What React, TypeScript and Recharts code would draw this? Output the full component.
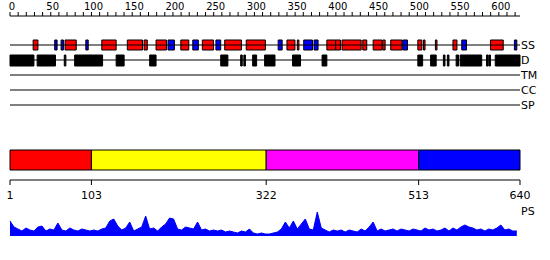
import { ComposedChart, XAxis, YAxis, ReferenceArea, ReferenceLine, AreaChart, Area } from "recharts";

// residue ranges
const helixSegments = [
  [30, 36], [70, 84], [116, 134], [148, 167], [169, 173], [184, 197], [215, 225], [242, 256],
  [270, 291], [297, 321], [348, 358], [361, 363], [398, 409], [409, 415], [417, 441], [443, 448],
  [456, 467], [468, 471], [478, 492], [512, 517], [519, 521], [534, 536], [556, 561], [603, 619],
];
const strandSegments = [
  [57, 60], [65, 68], [96, 99], [199, 207], [230, 237], [259, 265], [337, 342], [369, 380],
  [382, 387], [493, 499], [567, 573], [633, 636],
];
const disorderSegments = [
  [1, 31], [35, 58], [69, 71], [82, 117], [134, 144], [176, 184], [265, 274], [290, 292],
  [294, 296], [305, 310], [320, 333], [355, 365], [392, 398], [512, 518], [528, 535], [544, 546],
  [549, 551], [560, 563], [565, 592], [598, 600], [601, 603], [609, 640],
];
const trackNames = ["SS", "D", "TM", "CC", "SP"];
const domainBounds = [1, 103, 322, 513, 640];
const domainColors = ["#ff0000", "#ffff00", "#ff00ff", "#0000ff"];
const rulerTicks = Array.from({ length: 63 }, (_, i) => i * 10);

// PS profile, one value every 5 residues from residue 1
const psValues = [
  15, 9, 7, 5, 8, 6, 5, 9, 10, 5, 7, 6, 13, 6, 5, 8, 6, 5, 7, 6,
  5, 6, 5, 7, 8, 15, 17, 10, 6, 8, 14, 5, 7, 9, 20, 7, 8, 5, 9, 12,
  18, 17, 7, 6, 9, 8, 7, 14, 6, 7, 5, 6, 5, 6, 4, 5, 4, 3, 5, 4,
  7, 3, 2, 3, 2, 2, 3, 4, 7, 14, 8, 15, 7, 12, 17, 7, 6, 24, 8, 6,
  4, 6, 5, 6, 4, 6, 5, 4, 7, 5, 9, 14, 5, 7, 5, 6, 7, 5, 7, 6,
  5, 7, 6, 5, 8, 6, 7, 5, 6, 8, 5, 8, 6, 9, 11, 9, 8, 6, 7, 5,
  7, 6, 8, 11, 6, 7, 5, 5,
];
const psData = psValues.map((v, i) => ({ r: 1 + i * 5, v }));
const frameData = domainBounds.map((b) => ({ pos: b }));

const FONT = "DejaVu Sans";
const SS_Y = 45;
const ROW_GAP = 15;

function RulerTick(props: any) {
  const { x, y, payload } = props;
  if (payload.value % 50 !== 0) return null;
  return (
    <text x={x + 2} y={y} textAnchor="middle" fontSize={10} fontFamily={FONT} fill="#000">
      {payload.value}
    </text>
  );
}

function PsLabel(props: any) {
  const { viewBox } = props;
  return (
    <text x={viewBox.x + viewBox.width + 1} y={viewBox.y + 35} fontSize={11} fontFamily={FONT} fill="#000">
      PS
    </text>
  );
}

export default function App() {
  return (
    <div style={{ position: "absolute", left: 0, top: 0, width: 550, height: 260, background: "#fff" }}>
      <ComposedChart width={550} height={220} margin={{ top: 0, right: 30, bottom: 0, left: 10 }} data={frameData}>
        <XAxis
          xAxisId="ruler"
          orientation="top"
          type="number"
          dataKey="pos"
          domain={[0, 626]}
          allowDataOverflow
          ticks={rulerTicks}
          interval={0}
          height={16}
          tickSize={4}
          tick={<RulerTick />}
          stroke="#000"
          tickLine={{ stroke: "#000" }}
        />
        <XAxis
          xAxisId="seq"
          orientation="bottom"
          type="number"
          dataKey="pos"
          domain={[1, 640]}
          allowDataOverflow
          ticks={domainBounds}
          interval={0}
          height={40}
          tickSize={5}
          tickMargin={6}
          tick={{ fontSize: 11, fontFamily: FONT, fill: "#000" }}
          stroke="#000"
          tickLine={{ stroke: "#000" }}
          label={<PsLabel />}
        />
        <YAxis yAxisId="px" type="number" domain={[16, 180]} allowDataOverflow reversed hide />

        {trackNames.map((name, i) => (
          <ReferenceLine
            key={name}
            xAxisId="seq"
            yAxisId="px"
            y={SS_Y + i * ROW_GAP}
            stroke="#000"
            label={{ value: name, position: "right", offset: 1, fill: "#000", fontSize: 11, fontFamily: FONT }}
          />
        ))}
        {helixSegments.map(([a, b], i) => (
          <ReferenceArea key={"h" + i} xAxisId="seq" yAxisId="px" x1={a} x2={b} y1={SS_Y - 5} y2={SS_Y + 5}
            fill="#ff0000" fillOpacity={1} stroke="#000" strokeOpacity={1} />
        ))}
        {strandSegments.map(([a, b], i) => (
          <ReferenceArea key={"s" + i} xAxisId="seq" yAxisId="px" x1={a} x2={b} y1={SS_Y - 5} y2={SS_Y + 5}
            fill="#0000ff" fillOpacity={1} stroke="#000" strokeOpacity={1} />
        ))}
        {disorderSegments.map(([a, b], i) => (
          <ReferenceArea key={"d" + i} xAxisId="seq" yAxisId="px" x1={a} x2={b} y1={SS_Y + ROW_GAP - 5} y2={SS_Y + ROW_GAP + 6}
            fill="#000" fillOpacity={1} stroke="#000" strokeOpacity={1} />
        ))}
        {domainColors.map((c, i) => (
          <ReferenceArea key={"dom" + i} xAxisId="seq" yAxisId="px" x1={domainBounds[i]} x2={domainBounds[i + 1]}
            y1={150} y2={170} fill={c} fillOpacity={1} stroke="#000" strokeOpacity={1} />
        ))}
      </ComposedChart>

      <div style={{ position: "absolute", left: 0, top: 204 }}>
        <AreaChart width={550} height={32} margin={{ top: 0, right: 30, bottom: 0, left: 10 }} data={psData}>
          <XAxis dataKey="r" type="number" domain={[1, 640]} hide />
          <YAxis type="number" domain={[0, 32]} hide />
          <Area dataKey="v" type="linear" stroke="#0000ff" fill="#0000ff" fillOpacity={1} isAnimationActive={false} />
        </AreaChart>
      </div>
    </div>
  );
}
